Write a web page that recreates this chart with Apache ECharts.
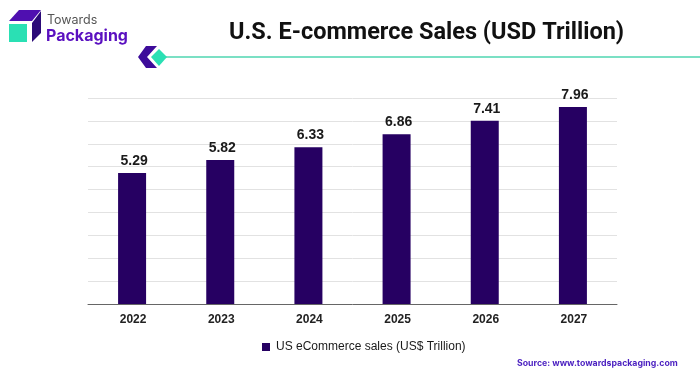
<!DOCTYPE html>
<html>
<head>
<meta charset="utf-8">
<style>html,body{margin:0;padding:0;background:#fff}#chart{width:700px;height:376px}</style>
<script src="https://cdn.jsdelivr.net/npm/echarts@6/dist/echarts.min.js"></script>
</head>
<body>
<div id="chart"></div>
<script>
const categories = ['2022', '2023', '2024', '2025', '2026', '2027'];
const salesValues = [5.29, 5.82, 6.33, 6.86, 7.41, 7.96];
const seriesName = 'US eCommerce sales (US$ Trillion)';

const labelFont = '"Liberation Sans", Arial, sans-serif';
const chart = echarts.init(document.getElementById('chart'));

chart.setOption({
  animation: false,
  backgroundColor: '#ffffff',
  grid: { left: 88, right: 83, top: 98, bottom: 72 },
  legend: {
    data: [seriesName],
    left: 257,
    top: 336,
    itemWidth: 8,
    itemHeight: 8,
    icon: 'rect',
    itemGap: 6,
    textStyle: { fontFamily: labelFont, fontSize: 12, color: '#1a1a1a', padding: [0, 0, 0, 1] }
  },
  xAxis: {
    type: 'category',
    data: categories,
    axisTick: { show: false },
    axisLine: { lineStyle: { color: '#666666', width: 1 } },
    axisLabel: { fontFamily: labelFont, fontSize: 12, fontWeight: 'bold', color: '#222222', margin: 10, padding: [0, 0, 0, 2] }
  },
  yAxis: {
    type: 'value',
    min: 0,
    max: 8.325,
    interval: 0.925,
    axisLine: { show: false },
    axisTick: { show: false },
    axisLabel: { show: false },
    splitLine: { lineStyle: { color: '#e2e2e2', width: 1 } }
  },
  series: [{
    name: seriesName,
    type: 'bar',
    data: salesValues,
    barWidth: 28,
    itemStyle: { color: '#260062' },
    label: {
      show: true,
      position: 'top',
      distance: 6,
      offset: [2, 1],
      fontFamily: labelFont,
      fontSize: 14,
      fontWeight: 'bold',
      color: '#1a1a1a',
      formatter: p => p.value.toFixed(2)
    }
  }],
  graphic: [
    // logo
    { type: 'polygon', shape: { points: [[9, 21], [19, 10], [41, 10], [32, 21]] }, style: { fill: '#4f0fb0' } },
    { type: 'polygon', shape: { points: [[32, 23], [41, 11], [41, 33], [32, 42]] }, style: { fill: '#2b0a78' } },
    { type: 'rect', shape: { x: 9, y: 24, width: 18, height: 18 }, style: { fill: '#2ae0b4' } },
    { type: 'text', left: 47, top: 14, style: { text: 'Towards', fontFamily: 'Inter, sans-serif', fontSize: 12.5, fill: '#555555' } },
    { type: 'text', left: 46, top: 28, style: { text: 'Packaging', fontFamily: 'Inter, sans-serif', fontSize: 16, fontWeight: 'bold', fill: '#5a10c0' } },
    // title and its rule
    { type: 'text', left: 229, top: 21, style: { text: 'U.S. E-commerce Sales (USD Trillion)', fontFamily: 'Roboto, sans-serif', fontSize: 23.5, fontWeight: 'bold', fill: '#111111' } },
    { type: 'line', shape: { x1: 165, y1: 57, x2: 700, y2: 57 }, style: { stroke: '#4fd6b0', lineWidth: 1.5 } },
    { type: 'polygon', shape: { points: [[146, 46], [157, 46], [147, 57], [157, 68], [146, 68], [138, 57]] }, style: { fill: '#3d0c9a' } },
    { type: 'polygon', shape: { points: [[159, 49], [167, 57], [159, 66], [151, 57]] }, style: { fill: '#2ae0b4' } },
    // source
    { type: 'text', left: 517, top: 359, style: { text: 'Source: www.towardspackaging.com', fontFamily: 'Inter, sans-serif', fontSize: 8.75, fontWeight: 'bold', fill: '#4a1fc0' } }
  ]
});
</script>
</body>
</html>
